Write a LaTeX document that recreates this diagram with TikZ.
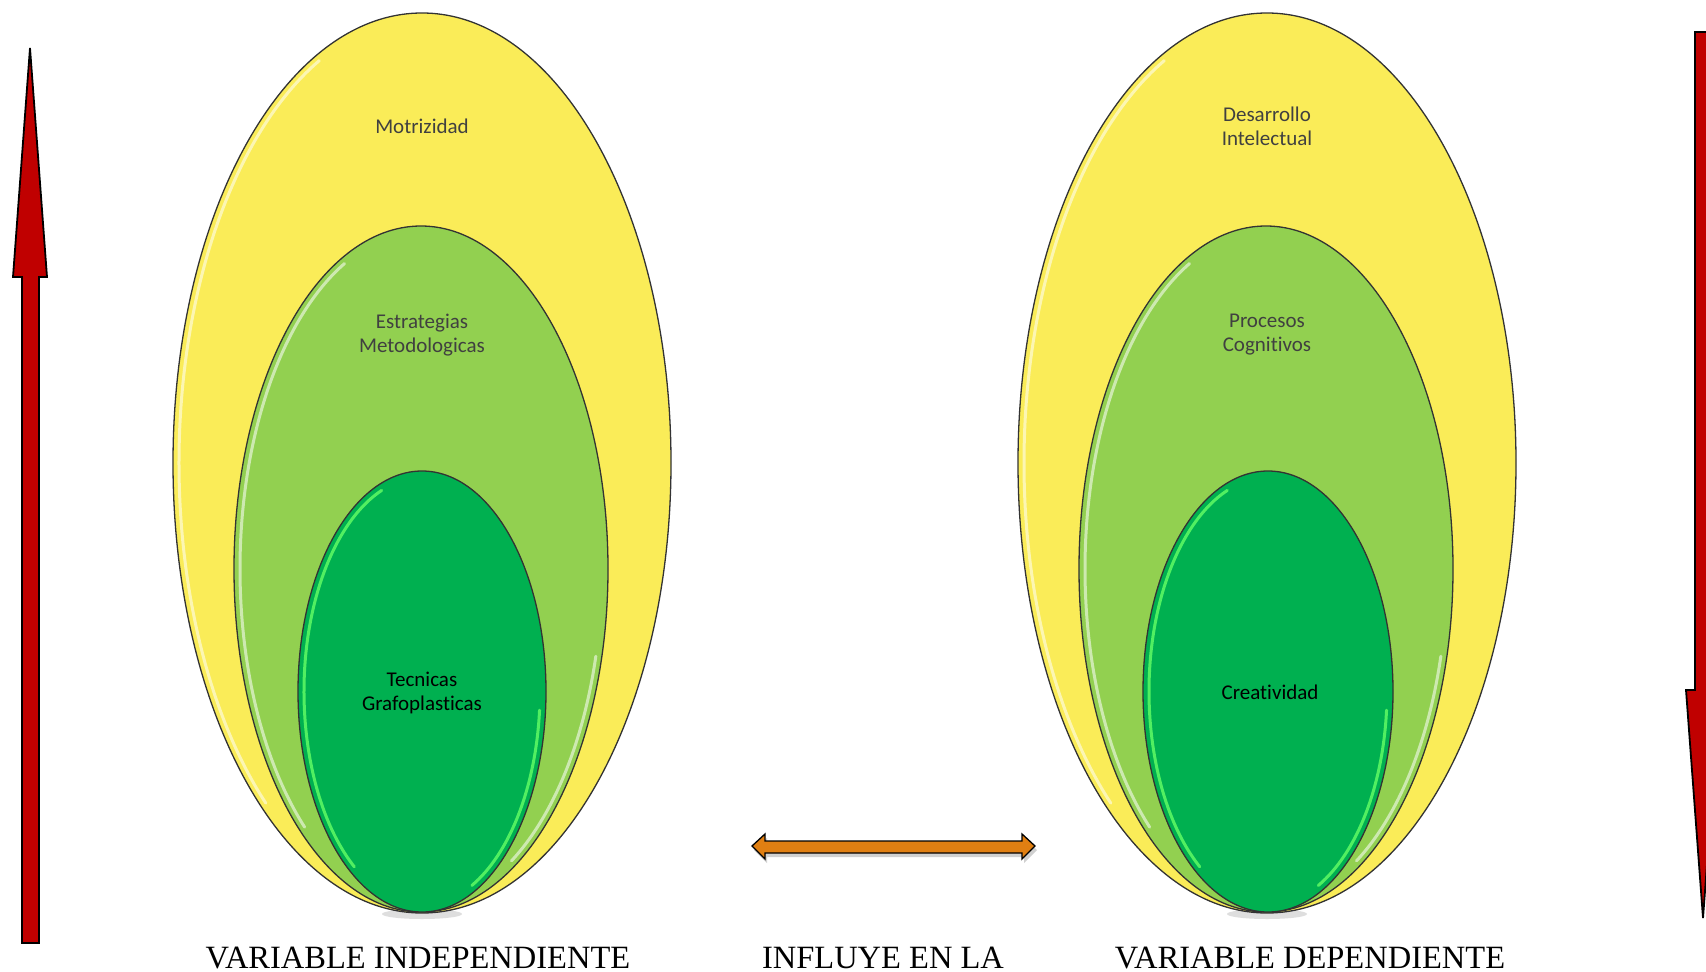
\documentclass[tikz,border=0pt]{standalone}
\usepackage{fontspec}
\setmainfont{Liberation Serif}
\newfontfamily\calib[Ligatures={NoCommon}]{Carlito}
\usetikzlibrary{shapes.geometric}
\definecolor{yel}{HTML}{FAEC58}
\definecolor{lgreen}{HTML}{92D050}
\definecolor{dgreen}{HTML}{00B050}
\definecolor{redarr}{HTML}{C00000}
\definecolor{orng}{HTML}{E07F12}
\definecolor{lbl}{HTML}{404040}
\tikzset{
  oval/.style={ellipse, draw=black!80, line width=1.3pt, inner sep=0pt},
  yoval/.style={oval, fill=yel},
  goval/.style={oval, fill=lgreen},
  doval/.style={oval, fill=dgreen},
  hilite/.style={draw=white, opacity=0.55, line width=3pt, line cap=round},
  lab/.style={font=\calib\fontsize{21}{24}\selectfont, align=center, text=lbl},
  ilab/.style={font=\calib\fontsize{21}{24}\selectfont, align=center, text=black},
  vtext/.style={font=\fontsize{32.5}{34}\selectfont, anchor=base},
  bigarrow/.style={fill=redarr, draw=black, line width=1.8pt, line join=miter},
}
\begin{document}
\begin{tikzpicture}[x=1pt,y=-1pt]
\useasboundingbox (0,0) rectangle (1706,972);
\clip (0,0) rectangle (1706,972);
\fill[white] (0,0) rectangle (1706,972);

% soft shadows under the groups
\foreach \cx in {422,1267}{
  \fill[black!25, opacity=0.5] (\cx,914) ellipse [x radius=40, y radius=5];
}

% left group
\node[yoval, minimum width=498, minimum height=900] (o1) at (422,463) {};
\draw[hilite] (422,463) ++(130:243 and 444) arc[start angle=130, end angle=245, x radius=243, y radius=444];
\node[goval, minimum width=374, minimum height=686] (m1) at (421,569) {};
\draw[hilite] (421,569) ++(130:181 and 337) arc[start angle=130, end angle=245, x radius=181, y radius=337];
\draw[hilite] (421,569) ++(15:181 and 337) arc[start angle=15, end angle=60, x radius=181, y radius=337];
\node[doval, minimum width=248, minimum height=441] (i1) at (422,691.5) {};
\draw[hilite, draw=green!60!white, opacity=0.8] (422,691.5) ++(125:118 and 214) arc[start angle=125, end angle=250, x radius=118, y radius=214];
\draw[hilite, draw=green!60!white, opacity=0.8] (422,691.5) ++(5:118 and 214) arc[start angle=5, end angle=65, x radius=118, y radius=214];

% right group
\node[yoval, minimum width=498, minimum height=900] (o2) at (1267,463) {};
\draw[hilite] (1267,463) ++(130:243 and 444) arc[start angle=130, end angle=245, x radius=243, y radius=444];
\node[goval, minimum width=374, minimum height=686] (m2) at (1266,569) {};
\draw[hilite] (1266,569) ++(130:181 and 337) arc[start angle=130, end angle=245, x radius=181, y radius=337];
\draw[hilite] (1266,569) ++(15:181 and 337) arc[start angle=15, end angle=60, x radius=181, y radius=337];
\node[doval, minimum width=250, minimum height=441] (i2) at (1268,691.5) {};
\draw[hilite, draw=green!60!white, opacity=0.8] (1268,691.5) ++(125:119 and 214) arc[start angle=125, end angle=250, x radius=119, y radius=214];
\draw[hilite, draw=green!60!white, opacity=0.8] (1268,691.5) ++(5:119 and 214) arc[start angle=5, end angle=65, x radius=119, y radius=214];

% labels
\node[lab] (t1) at (422,126) {Motrizidad};
\node[lab] (t2) at (422,335) {Estrategias\\Metodologicas};
\node[ilab] (t3) at (422,693) {Tecnicas\\Grafoplasticas};
\node[lab] (t4) at (1267,126) {Desarrollo\\Intelectual};
\node[lab] (t5) at (1267,335) {Procesos\\Cognitivos};
\node[ilab] (t6) at (1270,692) {Creatividad};

% red arrows
\draw[bigarrow] (30,48) -- (47,277) -- (39,277) -- (39,943) -- (22,943) -- (22,277) -- (13,277) -- cycle;
\draw[bigarrow] (1695,32) -- (1712,32) -- (1712,690) -- (1720,690) -- (1703,918) -- (1686,690) -- (1695,690) -- cycle;

% orange double arrow with shadow
\fill[black!30, opacity=0.6] (754,850) -- (767,838) -- (767,845) -- (1024,845) -- (1024,838) -- (1037,850) -- (1024,863) -- (1024,857) -- (767,857) -- (767,863) -- cycle;
\draw[fill=orng, draw=black, line width=1.3pt] (752,846) -- (765,834) -- (765,841) -- (1022,841) -- (1022,834) -- (1035,846) -- (1022,859) -- (1022,853) -- (765,853) -- (765,859) -- cycle;

% bottom texts
\node[vtext] (v1) at (418,968) {VARIABLE INDEPENDIENTE};
\node[vtext] (v2) at (883,968) {INFLUYE EN LA};
\node[vtext] (v3) at (1310,968) {VARIABLE DEPENDIENTE};
\end{tikzpicture}
\end{document}
